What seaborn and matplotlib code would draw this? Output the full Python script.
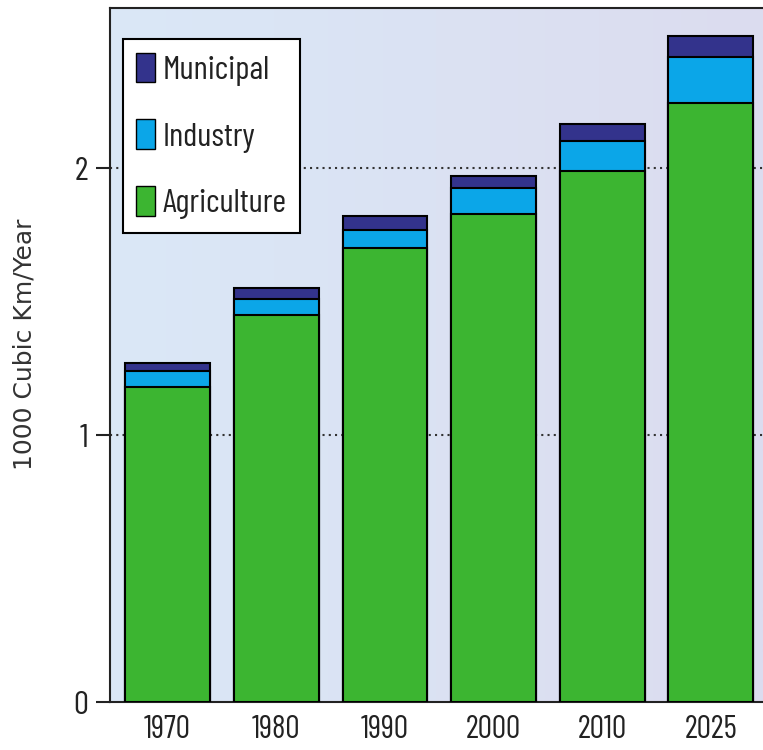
import numpy as np
import pandas as pd
import seaborn as sns
import matplotlib.pyplot as plt
from matplotlib.patches import Patch
from matplotlib.colors import LinearSegmentedColormap

years = ["1970", "1980", "1990", "2000", "2010", "2025"]
agriculture = [1.18, 1.45, 1.70, 1.83, 1.99, 2.245]
industry = [0.06, 0.06, 0.07, 0.095, 0.11, 0.17]
municipal = [0.03, 0.04, 0.05, 0.045, 0.065, 0.08]

colors = {"Municipal": "#33338c", "Industry": "#0ba6e8", "Agriculture": "#3cb531"}

df = pd.DataFrame({"year": years, "Agriculture": agriculture,
                   "Industry": industry, "Municipal": municipal})
# cumulative tops, drawn from the tallest down
df["top_ind"] = df["Agriculture"] + df["Industry"]
df["top_mun"] = df["top_ind"] + df["Municipal"]

sns.set_style("white")
plt.rcParams["font.family"] = ["Barlow Condensed", "DejaVu Sans"]

fig = plt.figure(figsize=(7.63, 7.5), dpi=100)
ax = fig.add_axes([110 / 763, 48 / 750, 653 / 763, 694 / 750])

xmin, xmax, ymin, ymax = -0.53, 5.48, 0, 2.6
grad = np.linspace(0, 1, 256).reshape(1, -1)
bg = LinearSegmentedColormap.from_list("bg", ["#dae8f7", "#dcdcef"])
ax.imshow(grad, extent=[xmin, xmax, ymin, ymax], aspect="auto", cmap=bg, zorder=0)

for col, c in [("top_mun", colors["Municipal"]), ("top_ind", colors["Industry"]),
               ("Agriculture", colors["Agriculture"])]:
    sns.barplot(data=df, x="year", y=col, color=c, width=0.78, edgecolor="black",
                linewidth=1.5, saturation=1, ax=ax, zorder=3)

ax.set_xlim(xmin, xmax)
ax.set_ylim(ymin, ymax)
ax.set_yticks([0, 1, 2])
ax.set_yticklabels(["0", "1", "2"], fontsize=24, color="#222222")
ax.tick_params(axis="x", length=0, labelsize=23, pad=9, labelcolor="#222222")
ax.tick_params(axis="y", left=True, length=10, width=1.5, color="#222222", pad=6)
for y in [1, 2]:
    ax.axhline(y, color="#333333", linestyle=(0, (1, 2)), linewidth=1.5, zorder=1)

for s in ["left", "top", "bottom"]:
    ax.spines[s].set_color("#222222")
    ax.spines[s].set_linewidth(1.5)
ax.spines["right"].set_visible(False)

ax.set_xlabel("")
ax.set_ylabel("1000 Cubic Km/Year", family="DejaVu Sans", fontsize=18, color="#333333")
ax.yaxis.set_label_coords(-0.112, 0.515)

handles = [Patch(facecolor=colors[k], edgecolor="black", label=k)
           for k in ["Municipal", "Industry", "Agriculture"]]
leg = ax.legend(handles=handles, loc="upper left", bbox_to_anchor=(0.02, 0.955),
                fontsize=24, frameon=True, fancybox=False, edgecolor="black",
                handlelength=0.55, handleheight=1.0, handletextpad=0.25,
                labelspacing=1.0, borderpad=0.4, borderaxespad=0)
leg.get_frame().set_linewidth(1.5)
leg.get_frame().set_facecolor("white")
leg.get_frame().set_alpha(1)
for t in leg.get_texts():
    t.set_color("#222222")

fig.savefig("out.png", dpi=100)
